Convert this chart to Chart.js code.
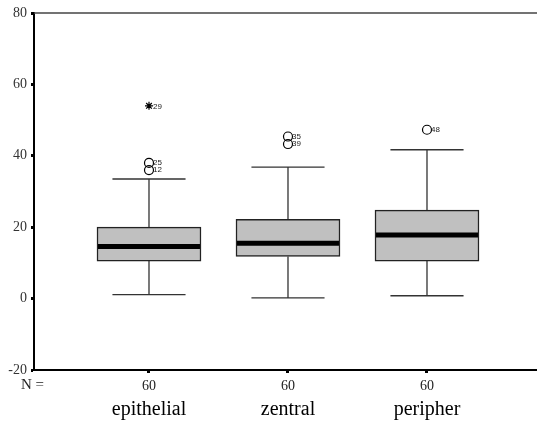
<!DOCTYPE html>
<html><head><meta charset="utf-8">
<script src="https://cdn.jsdelivr.net/npm/chart.js@4"></script>
<style>html,body{margin:0;padding:0;background:#fff}#wrap{width:537px;height:426px}</style>
</head><body><div id="wrap"><canvas id="c" width="537" height="426"></canvas></div>
<script>
const categories = ["epithelial", "zentral", "peripher"];
const counts = [60, 60, 60];
const whiskerLow = [1.1, 0.2, 0.8];
const q1 = [10.5, 11.8, 10.5];
const median = [14.6, 15.5, 17.8];
const q3 = [20.0, 22.2, 24.8];
const whiskerHigh = [33.5, 36.8, 41.7];
const outlierGroup = [0, 0, 1, 1, 2];
const outlierValue = [38.0, 36.0, 45.4, 43.3, 47.3];
const outlierLabel = ["25", "12", "35", "39", "48"];
const extremeGroup = [0];
const extremeValue = [54.0];
const extremeLabel = ["29"];
const yTicks = [-20, 0, 20, 40, 60, 80];

const SERIF = "'Liberation Serif', 'Times New Roman', serif";

const boxPlugin = {
  id: 'boxParts',
  beforeDatasetsDraw(chart) {
    const {ctx} = chart, x = chart.scales.x, y = chart.scales.y;
    ctx.save();
    ctx.strokeStyle = '#333';
    ctx.lineWidth = 1.3;
    categories.forEach((c, i) => {
      const cx = x.getPixelForValue(i);
      const capL = x.getPixelForValue(i - 0.263), capR = x.getPixelForValue(i + 0.263);
      ctx.beginPath();
      ctx.moveTo(cx, y.getPixelForValue(q3[i])); ctx.lineTo(cx, y.getPixelForValue(whiskerHigh[i]));
      ctx.moveTo(cx, y.getPixelForValue(q1[i])); ctx.lineTo(cx, y.getPixelForValue(whiskerLow[i]));
      ctx.moveTo(capL, y.getPixelForValue(whiskerHigh[i])); ctx.lineTo(capR, y.getPixelForValue(whiskerHigh[i]));
      ctx.moveTo(capL, y.getPixelForValue(whiskerLow[i])); ctx.lineTo(capR, y.getPixelForValue(whiskerLow[i]));
      ctx.stroke();
    });
    ctx.restore();
  },
  afterDatasetsDraw(chart) {
    const {ctx} = chart, x = chart.scales.x, y = chart.scales.y;
    ctx.save();
    ctx.strokeStyle = '#000';
    ctx.lineWidth = 5;
    categories.forEach((c, i) => {
      const l = x.getPixelForValue(i - 0.374), r = x.getPixelForValue(i + 0.374);
      const py = y.getPixelForValue(median[i]);
      ctx.beginPath(); ctx.moveTo(l + 1, py); ctx.lineTo(r - 1, py); ctx.stroke();
    });
    ctx.font = "8px 'Liberation Sans', Arial, sans-serif";
    ctx.fillStyle = '#222';
    ctx.textBaseline = 'middle';
    outlierValue.forEach((v, k) => {
      ctx.fillText(outlierLabel[k], x.getPixelForValue(outlierGroup[k]) + 4, y.getPixelForValue(v));
    });
    extremeValue.forEach((v, k) => {
      ctx.fillText(extremeLabel[k], x.getPixelForValue(extremeGroup[k]) + 4, y.getPixelForValue(v) + 1);
    });
    ctx.font = "15px " + SERIF;
    ctx.fillStyle = '#222';
    ctx.textAlign = 'left';
    ctx.textBaseline = 'middle';
    ctx.fillText("N =", 21, chart.chartArea.bottom + 15);
    ctx.restore();
  }
};

const frame = {
  id: 'frame',
  afterDraw(chart) {
    const {ctx, chartArea: a} = chart;
    ctx.save();
    ctx.strokeStyle = '#444'; ctx.lineWidth = 1.5;
    ctx.beginPath(); ctx.moveTo(a.left, a.top); ctx.lineTo(a.right, a.top); ctx.stroke();
    ctx.restore();
  }
};

const noPad = s => { s.paddingLeft = 0; s.paddingRight = 0; };

new Chart(document.getElementById('c'), {
  data: {
    datasets: [
      {
        type: 'bar',
        data: categories.map((c, i) => ({x: i, y: [q1[i], q3[i]]})),
        backgroundColor: '#c0c0c0',
        borderColor: '#222',
        borderWidth: 1.5,
        borderSkipped: false,
        barThickness: 104,
        order: 2
      },
      {
        type: 'scatter',
        data: outlierValue.map((v, k) => ({x: outlierGroup[k], y: v})),
        pointStyle: 'circle',
        radius: 4.5,
        borderColor: '#000',
        borderWidth: 1.2,
        backgroundColor: 'rgba(0,0,0,0)',
        order: 1
      },
      {
        type: 'scatter',
        data: extremeValue.map((v, k) => ({x: extremeGroup[k], y: v})),
        pointStyle: 'star',
        radius: 4,
        borderColor: '#000',
        borderWidth: 1.2,
        order: 1
      }
    ]
  },
  options: {
    responsive: false,
    animation: false,
    layout: {autoPadding: false, padding: {top: 13, right: 0, left: 0, bottom: 0}},
    plugins: {legend: {display: false}, tooltip: {enabled: false}},
    scales: {
      x: {
        type: 'linear', position: 'bottom', offset: false,
        min: -0.8273, max: 2.7914,
        afterBuildTicks: s => { s.ticks = categories.map((c, i) => ({value: i})); },
        afterFit: s => { s.height = 28; noPad(s); },
        grid: {offset: false, drawOnChartArea: false, drawTicks: true, tickLength: 3, tickWidth: 3, tickColor: '#000'},
        border: {color: '#000', width: 2},
        ticks: {
          callback: (v, i) => String(counts[i]),
          font: {family: SERIF, size: 14}, color: '#222', padding: 5, maxRotation: 0, autoSkip: false
        }
      },
      x2: {
        type: 'linear', position: 'bottom', offset: false,
        min: -0.8273, max: 2.7914,
        afterBuildTicks: s => { s.ticks = categories.map((c, i) => ({value: i})); },
        afterFit: s => { s.height = 28; noPad(s); },
        grid: {display: false, drawTicks: false, offset: false},
        border: {display: false},
        ticks: {
          callback: (v, i) => categories[i],
          font: {family: SERIF, size: 20}, color: '#000', padding: 0, maxRotation: 0, autoSkip: false
        }
      },
      y: {
        type: 'linear', min: -20, max: 80,
        afterBuildTicks: s => { s.ticks = yTicks.map(v => ({value: v})); },
        afterFit: s => { s.width = 34; s.paddingTop = 0; s.paddingBottom = 0; },
        grid: {drawOnChartArea: false, drawTicks: true, tickLength: 3, tickWidth: 3, tickColor: '#000'},
        border: {color: '#000', width: 2},
        ticks: {font: {family: SERIF, size: 14}, color: '#333', padding: 4}
      }
    }
  },
  plugins: [boxPlugin, frame]
});
</script>
</body></html>
